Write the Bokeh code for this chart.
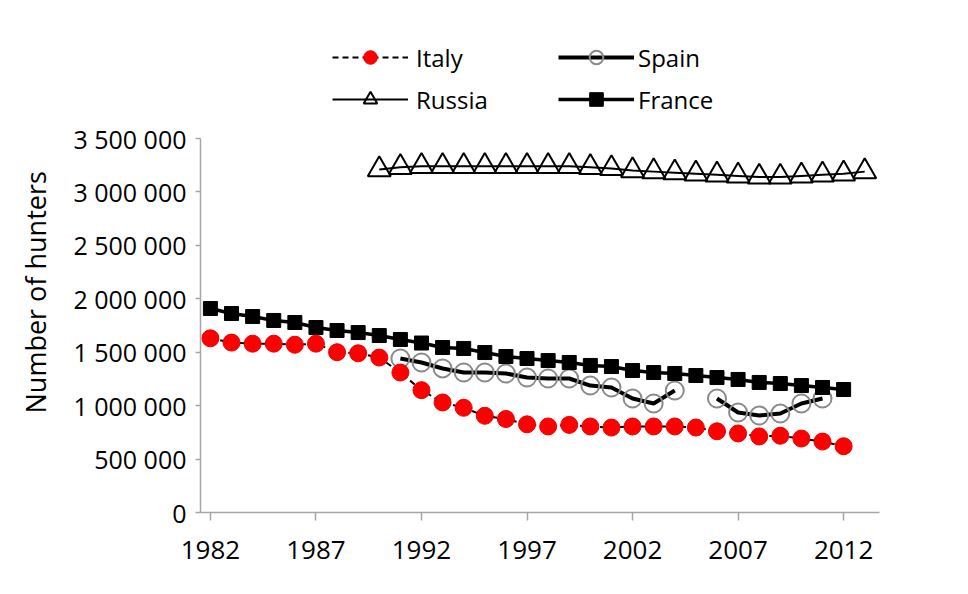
from bokeh.plotting import figure
from bokeh.models import ColumnDataSource, Legend, LegendItem, FixedTicker, Range1d, Title
from bokeh.embed import file_html
from bokeh.resources import INLINE

nan = float("nan")

years_italy = [1982, 1983, 1984, 1985, 1986, 1987, 1988, 1989, 1990, 1991, 1992,
               1993, 1994, 1995, 1996, 1997, 1998, 1999, 2000, 2001, 2002,
               2003, 2004, 2005, 2006, 2007, 2008, 2009, 2010, 2011, 2012]
italy = [1630000, 1590000, 1580000, 1580000, 1570000, 1580000, 1500000, 1490000,
         1450000, 1310000, 1145000, 1030000, 980000, 905000, 875000, 825000,
         805000, 820000, 805000, 795000, 805000, 805000, 805000, 795000,
         760000, 740000, 712000, 718000, 692000, 664000, 620000]

years_france = years_italy
france = [1909000, 1862000, 1834000, 1797000, 1778000, 1731000, 1703000, 1684000,
          1656000, 1619000, 1586000, 1544000, 1535000, 1497000, 1460000, 1441000,
          1422000, 1404000, 1376000, 1366000, 1329000, 1310000, 1301000, 1282000,
          1263000, 1245000, 1217000, 1207000, 1188000, 1170000, 1151000]

years_spain = [1991, 1992, 1993, 1994, 1995, 1996, 1997, 1998, 1999, 2000, 2001,
               2002, 2003, 2004, 2005, 2006, 2007, 2008, 2009, 2010, 2011]
spain = [1441000, 1404000, 1348000, 1310000, 1310000, 1301000, 1263000, 1254000,
         1254000, 1188000, 1170000, 1067000, 1020000, 1142000, nan, 1067000,
         936000, 908000, 926000, 1020000, 1067000]

years_russia = [1990, 1991, 1992, 1993, 1994, 1995, 1996, 1997, 1998, 1999, 2000,
                2001, 2002, 2003, 2004, 2005, 2006, 2007, 2008, 2009, 2010, 2011,
                2012, 2013]
russia = [3210000, 3230000, 3240000, 3240000, 3240000, 3240000, 3240000, 3240000,
          3240000, 3240000, 3230000, 3220000, 3200000, 3190000, 3180000, 3170000,
          3160000, 3150000, 3140000, 3140000, 3150000, 3160000, 3170000, 3190000]

x_ticks = [1982, 1987, 1992, 1997, 2002, 2007, 2012]
y_ticks = [0, 500000, 1000000, 1500000, 2000000, 2500000, 3000000, 3500000]
y_tick_labels = ["0", "500 000", "1 000 000", "1 500 000", "2 000 000",
                 "2 500 000", "3 000 000", "3 500 000"]

FONT = "Open Sans"

STYLES = {
    "Italy": dict(line=dict(line_color="black", line_width=2, line_dash="6 4"),
                  mark=dict(marker="circle", size=17, fill_color="#ff0000",
                            line_color="#ee0000", line_width=1)),
    "Russia": dict(line=dict(line_color="black", line_width=2),
                   mark=dict(marker="triangle", size=23, fill_color=None,
                             line_color="black", line_width=2)),
    "Spain": dict(line=dict(line_color="black", line_width=4),
                  mark=dict(marker="circle", size=18, fill_color=None,
                            line_color="#8a8a8a", line_width=2)),
    "France": dict(line=dict(line_color="black", line_width=3.5),
                   mark=dict(marker="square", size=14, fill_color="black",
                             line_color="black")),
}

# frame: x from px 200 to 879, y from px 10 (top) to 512 (axis 0);
# the value axis itself is limited to 0..3 500 000 (px 512..138)
Y_AXIS_MAX = 3500000
PX_PER_UNIT = 374 / Y_AXIS_MAX
y_top = Y_AXIS_MAX + (138 - 10) / PX_PER_UNIT

p = figure(width=960, height=590, output_backend="svg", toolbar_location=None,
           x_range=Range1d(1981.53, 2013.7), y_range=Range1d(0, y_top),
           min_border_left=200, min_border_right=81, min_border_top=10,
           min_border_bottom=78)
p.outline_line_color = None
p.xgrid.grid_line_color = None
p.ygrid.grid_line_color = None
p.background_fill_color = "white"
p.border_fill_color = "white"

renderers = {}
series = [("Russia", years_russia, russia), ("Spain", years_spain, spain),
          ("France", years_france, france), ("Italy", years_italy, italy)]
for name, xs, ys in series:
    src = ColumnDataSource(dict(x=xs, y=ys))
    l = p.line("x", "y", source=src, **STYLES[name]["line"])
    m = p.scatter("x", "y", source=src, **STYLES[name]["mark"])
    renderers[name] = [l, m]

p.xaxis.ticker = FixedTicker(ticks=x_ticks)
p.yaxis.ticker = FixedTicker(ticks=y_ticks)
p.yaxis.bounds = (0, Y_AXIS_MAX)
p.yaxis.major_label_overrides = {t: l for t, l in zip(y_ticks, y_tick_labels)}
for ax in (p.xaxis[0], p.yaxis[0]):
    ax.axis_line_color = "#a6a6a6"
    ax.axis_line_width = 1.5
    ax.major_tick_line_color = "#a6a6a6"
    ax.major_tick_line_width = 1.5
    ax.minor_tick_line_color = None
    ax.major_tick_in = 0
    ax.major_label_text_font = FONT
    ax.major_label_text_color = "black"
p.xaxis.major_tick_out = 8
p.yaxis.major_tick_out = 5
p.xaxis.major_label_text_font_size = "26px"
p.yaxis.major_label_text_font_size = "25px"
p.xaxis.major_label_standoff = 20
p.yaxis.major_label_standoff = 9

ytitle = Title(text="Number of hunters", text_font=FONT, text_font_size="27px",
               text_font_style="normal", text_color="black", align="left",
               vertical_align="top", offset=99, standoff=30)
p.add_layout(ytitle, "left")

common = dict(glyph_width=76, glyph_height=34, label_height=34, spacing=8,
              padding=0, margin=0, background_fill_alpha=0,
              border_line_alpha=0, label_text_font=FONT,
              label_text_font_size="24px", label_text_color="black")
leg1 = Legend(items=[LegendItem(label="Italy", renderers=renderers["Italy"]),
                     LegendItem(label="Russia", renderers=renderers["Russia"])],
              location=(132, 396), label_standoff=8, **common)
leg2 = Legend(items=[LegendItem(label="Spain", renderers=renderers["Spain"]),
                     LegendItem(label="France", renderers=renderers["France"])],
              location=(358, 396), label_standoff=4, **common)
p.add_layout(leg1)
p.add_layout(leg2)

open("out.html", "w").write(file_html(p, INLINE))
